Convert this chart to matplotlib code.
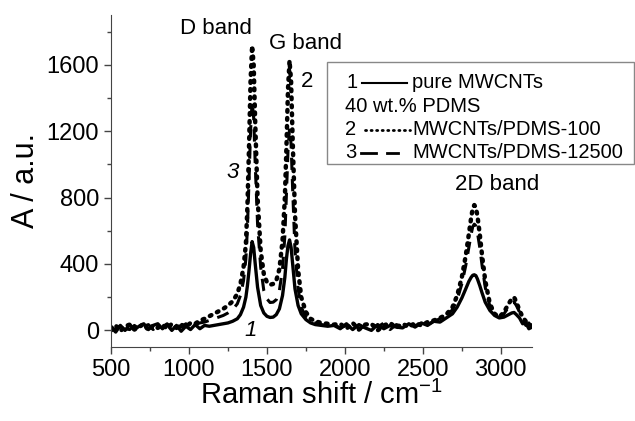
import matplotlib
matplotlib.use("Agg")
import matplotlib.pyplot as plt
from matplotlib.lines import Line2D
from matplotlib.patches import Rectangle
from matplotlib.ticker import MultipleLocator

plt.rcParams['font.family'] = ['Liberation Sans', 'DejaVu Sans']

# Raman shift grid (cm^-1), rows aligned with the series below
shift = [500, 530, 560, 590, 620, 650, 680, 710, 740, 770, 800, 830, 860, 890, 920, 950, 980, 1010, 1040, 1070, 1100,
         1130, 1160, 1190, 1220, 1250, 1280, 1310, 1330, 1350, 1365,
         1375, 1385, 1395, 1405, 1415, 1425, 1440, 1460, 1480, 1500,
         1520, 1540, 1560, 1580, 1600, 1615, 1625, 1635, 1645, 1655,
         1665, 1680, 1700, 1720, 1750, 1780, 1810, 1850, 1890, 1930,
         1970, 2010, 2050, 2090, 2130, 2170, 2210, 2250, 2290, 2330,
         2370, 2410, 2450, 2490, 2530, 2570, 2610, 2650, 2690, 2720,
         2750, 2775, 2795, 2810, 2820, 2830, 2840, 2850, 2865, 2880,
         2900, 2930, 2960, 2990, 3020, 3050, 3070, 3085, 3100, 3120,
         3140, 3160, 3180, 3200]

# 1 - pure MWCNTs (solid)
pure = [20, -10, 30, 0, 35, 5, 25, 40, 5, 30, 40, 10, 35, 0, 30, -5, 25, 5, 35, 10, 30,
        25, 30, 35, 40, 45, 55, 70, 95, 140, 200,
        270, 360, 460, 535, 500, 400, 260, 150, 105, 85,
        78, 80, 95, 130, 210, 320, 430, 510, 545, 500,
        400, 250, 150, 100, 65, 45, 35, 30, 25, 30,
        10, 40, 5, 35, 15, 0, 35, 10, 30, 20,
        15, 40, 20, 45, 30, 55, 50, 75, 100, 140,
        195, 250, 295, 320, 332, 335, 330, 310, 270, 225,
        170, 120, 90, 75, 80, 95, 105, 108, 95, 75,
        40, 45, 10, 20]

# 2 - MWCNTs/PDMS-100 (dotted)
pdms100 = [0, 30, -5, 25, 35, 5, 20, 40, 0, 30, 15, 35, 10, 40, 15, 35, 20, 45, 40, 60, 70,
           85, 100, 115, 130, 150, 175, 220, 280, 380, 520,
           750, 1100, 1500, 1715, 1600, 1250, 800, 480, 340, 290,
           275, 280, 300, 370, 540, 800, 1100, 1450, 1625, 1500,
           1150, 700, 365, 200, 110, 70, 55, 45, 40, 35,
           40, 10, 45, 5, 35, 40, 0, 30, 45, 15,
           40, 20, 45, 30, 50, 60, 75, 95, 140, 210,
           320, 450, 580, 680, 735, 755, 740, 690, 580, 450,
           300, 160, 100, 80, 110, 160, 190, 200, 170, 120,
           80, 55, 40, 25]

# 3 - MWCNTs/PDMS-12500 (dashed)
pdms12500 = [25, 0, 35, 10, 5, 30, 10, 25, 35, 5, 30, 20, 40, 10, 35, 20, 40, 25, 35, 45, 50,
             60, 70, 80, 90, 105, 125, 160, 210, 300, 430,
             620, 900, 1200, 1380, 1280, 1000, 640, 380, 240, 190,
             168, 170, 185, 240, 370, 570, 820, 1080, 1220, 1120,
             850, 480, 250, 140, 80, 55, 45, 35, 30, 35,
             15, 30, 45, 10, 25, 40, 20, 45, 5, 35,
             25, 35, 30, 40, 35, 55, 70, 85, 125, 185,
             280, 390, 500, 580, 625, 640, 630, 590, 500, 390,
             260, 145, 95, 80, 100, 140, 165, 170, 150, 110,
             70, 30, 45, 15]

fig = plt.figure(figsize=(6.35, 4.21), dpi=100)
ax = fig.add_axes([111/635, 1-347/421, (532-111)/635, (347-15)/421])

ax.plot(shift, pure, color='black', lw=2.4, ls='-')
ax.plot(shift, pdms12500, color='black', lw=2.2, ls=(0, (4, 3)))
ax.plot(shift, pdms100, color='black', lw=3.2, ls=(0, (0.4, 1.4)),
        dash_capstyle='round')

ax.set_xlim(500, 3200)
ax.set_ylim(-100, 1900)
ax.xaxis.set_major_locator(MultipleLocator(500))
ax.xaxis.set_minor_locator(MultipleLocator(250))
ax.yaxis.set_major_locator(MultipleLocator(400))
ax.yaxis.set_minor_locator(MultipleLocator(200))
for s in ['top', 'right']:
    ax.spines[s].set_visible(False)
for s in ['left', 'bottom']:
    ax.spines[s].set_color('#444444')
ax.tick_params(which='major', direction='out', length=5, width=1,
               color='#444444', labelsize=17)
ax.tick_params(which='minor', direction='out', length=3, width=1,
               color='#444444')

ax.set_xlabel('Raman shift / cm$^{\\mathregular{-1}}$', fontsize=21, labelpad=0)
ax.set_ylabel('A / a.u.', fontsize=22, labelpad=4)

ax.text(1170, 1820, 'D band', fontsize=16, ha='center', va='center')
ax.text(1750, 1730, 'G band', fontsize=16, ha='center', va='center')
ax.text(2974, 880, '2D band', fontsize=16, ha='center', va='center')
ax.text(1755, 1500, '2', fontsize=16, ha='center', va='center')
ax.text(1278, 950, '3', fontsize=16, ha='center', va='center', style='italic')
ax.text(1393, 0, '1', fontsize=16, ha='center', va='center', style='italic')

# legend box drawn in figure pixels
def fx(px):
    return px / 635

def fy(py):
    return 1 - py / 421

fig.add_artist(Rectangle((fx(327), fy(164)), fx(634) - fx(327), fy(62) - fy(164),
                         transform=fig.transFigure, fill=False,
                         edgecolor='#888888', lw=1))
rows = [83, 107, 130, 153]
fs = 14.5
fig.text(fx(347), fy(rows[0]), '1', fontsize=fs, va='center')
fig.add_artist(Line2D([fx(362), fx(407)], [fy(rows[0])] * 2, color='black', lw=1.5))
fig.text(fx(412), fy(rows[0]), 'pure MWCNTs', fontsize=fs, va='center')
fig.text(fx(345), fy(rows[1]), '40 wt.% PDMS', fontsize=fs, va='center')
fig.text(fx(345), fy(rows[2]), '2', fontsize=fs, va='center')
fig.add_artist(Line2D([fx(365), fx(410)], [fy(rows[2])] * 2, color='black', lw=2,
                      ls=(0, (0.4, 1.6)), dash_capstyle='round'))
fig.text(fx(412), fy(rows[2]), 'MWCNTs/PDMS-100', fontsize=fs, va='center')
fig.text(fx(345), fy(rows[3]), '3', fontsize=fs, va='center')
for x0, x1 in [(361, 376), (387, 398)]:
    fig.add_artist(Line2D([fx(x0), fx(x1)], [fy(rows[3])] * 2, color='black', lw=2))
fig.text(fx(412), fy(rows[3]), 'MWCNTs/PDMS-12500', fontsize=fs, va='center')

fig.savefig('out.png', dpi=100)
